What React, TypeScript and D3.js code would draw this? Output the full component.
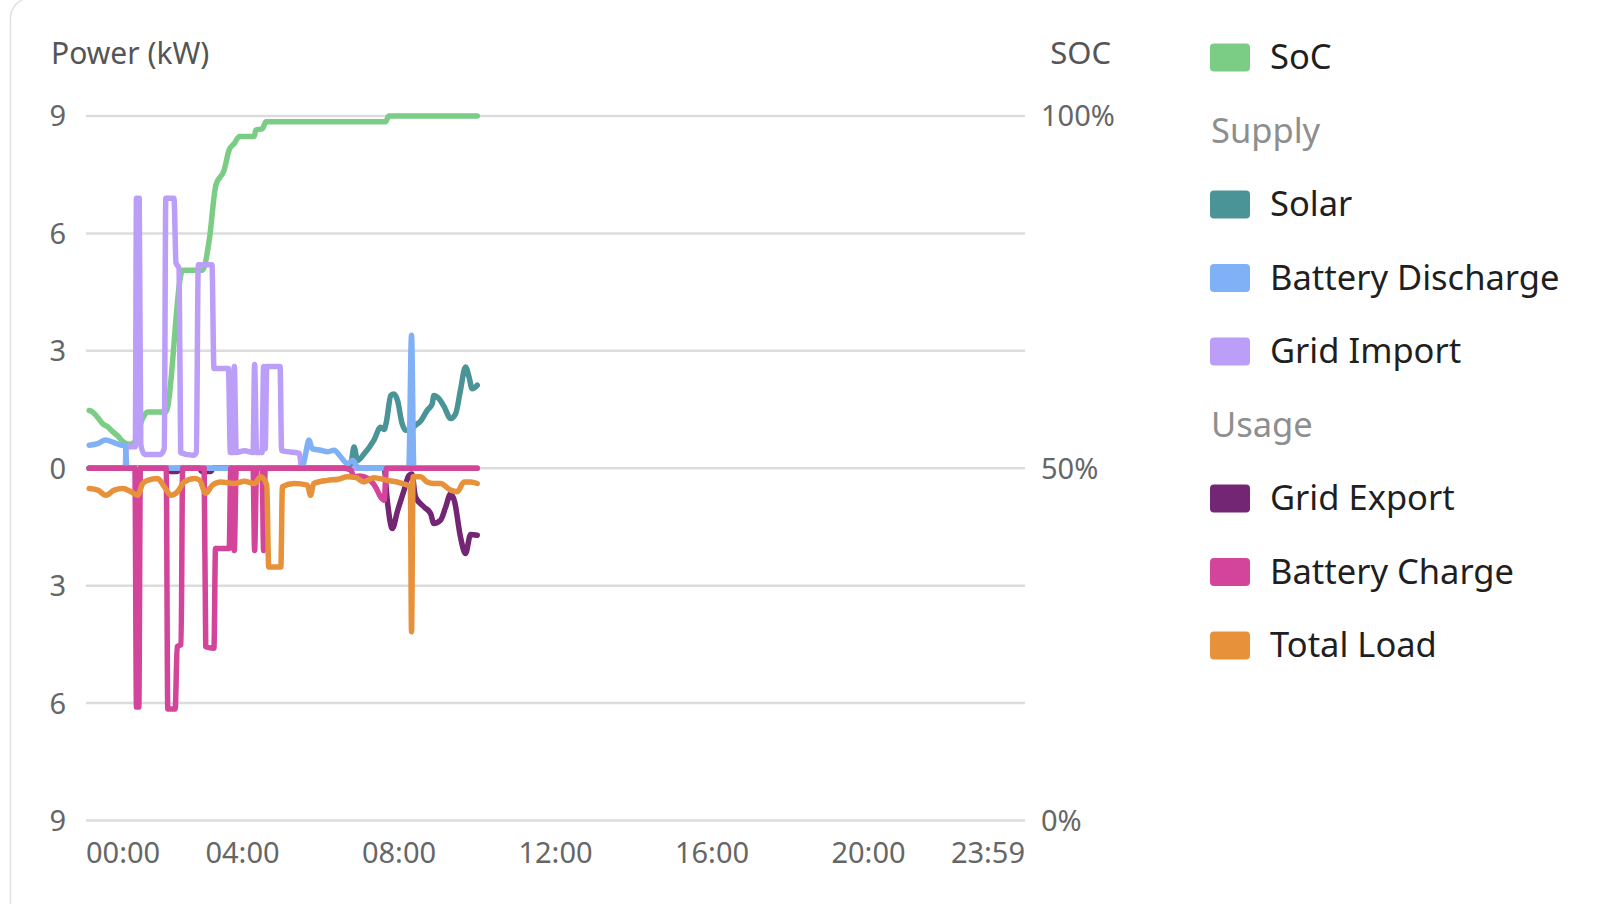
import React from "react";
import * as d3 from "d3";

type Pt = [number, number];

// hours since midnight, state of charge in %
const socData: Pt[] = [
  [0.08, 58.2], [0.17, 58.0], [0.3, 57.2], [0.43, 56.3], [0.55, 55.9], [0.68, 55.2],
  [0.81, 54.6], [0.94, 53.8], [1.1, 53.4], [1.22, 53.6], [1.45, 57.1], [1.57, 58.0],
  [2.04, 58.0], [2.47, 78.1], [2.98, 78.1], [3.15, 82.4], [3.32, 90.2], [3.53, 92.3],
  [3.66, 95.2], [3.79, 96.1], [3.92, 97.1], [4.3, 97.1], [4.34, 98.0], [4.51, 98.2],
  [4.6, 99.2], [7.66, 99.2], [7.74, 100], [10.0, 100],
];

// hours, kW (supply positive)
const solarData: Pt[] = [
  [0.08, 0], [6.6, 0], [6.77, 0.12], [6.85, 0.54], [6.94, 0.2], [7.11, 0.37], [7.36, 0.72],
  [7.53, 1.05], [7.62, 0.99], [7.68, 1.2], [7.79, 1.86], [7.87, 1.9], [7.96, 1.74],
  [8.08, 1.14], [8.17, 0.97], [8.3, 0.97], [8.42, 1.1], [8.55, 1.2], [8.72, 1.48],
  [8.85, 1.65], [8.89, 1.86], [9.02, 1.78], [9.15, 1.58], [9.32, 1.27], [9.45, 1.4],
  [9.57, 1.99], [9.7, 2.59], [9.79, 2.33], [9.87, 2.03], [10.0, 2.12],
];

const dischargeData: Pt[] = [
  [0.08, 0.59], [0.3, 0.63], [0.5, 0.72], [0.7, 0.66], [0.9, 0.59], [1.0, 0.59], [1.05, 0],
  [5.52, 0], [5.6, 0.3], [5.7, 0.72], [5.78, 0.5], [6.0, 0.46], [6.17, 0.42], [6.34, 0.46],
  [6.51, 0.29], [6.68, 0.12], [6.82, 0.2], [6.92, 0.05], [7.0, 0], [8.25, 0], [8.32, 3.4],
  [8.38, 0], [10.0, 0],
];

const importData: Pt[] = [
  [0.08, 0], [1.0, 0], [1.03, 0.55], [1.26, 0.55], [1.29, 6.9], [1.36, 6.9], [1.4, 0.6],
  [1.5, 0.35], [1.9, 0.35], [2.0, 0.5], [2.04, 6.9], [2.25, 6.9], [2.3, 5.25], [2.38, 5.1],
  [2.42, 0.4], [2.75, 0.33], [2.82, 0.4], [2.87, 5.2], [3.22, 5.2], [3.27, 2.55],
  [3.64, 2.55], [3.69, 0.4], [3.76, 0.4], [3.79, 2.6], [3.84, 0.4], [4.05, 0.45],
  [4.27, 0.4], [4.31, 2.65], [4.36, 0.4], [4.5, 0.4], [4.54, 2.6], [4.58, 0.5],
  [4.62, 2.6], [4.96, 2.6], [5.0, 0.45], [5.45, 0.38], [5.52, 0], [10.0, 0],
];

// usage negative
const exportData: Pt[] = [
  [0.08, 0], [2.1, 0], [2.15, -0.08], [2.35, -0.08], [2.4, 0], [2.9, 0], [2.95, -0.08],
  [3.2, -0.08], [3.25, 0], [7.62, 0], [7.7, -0.82], [7.83, -1.54], [7.96, -1.1],
  [8.13, -0.56], [8.25, -0.19], [8.33, -0.15], [8.42, -0.73], [8.64, -0.99], [8.81, -1.16],
  [8.89, -1.41], [9.06, -1.33], [9.19, -1.0], [9.32, -0.65], [9.42, -0.85], [9.57, -1.75],
  [9.7, -2.18], [9.83, -1.69], [10.0, -1.71],
];

const chargeData: Pt[] = [
  [0.08, 0], [1.25, 0], [1.29, -6.1], [1.35, -6.1], [1.39, 0], [2.05, 0], [2.09, -6.15],
  [2.28, -6.15], [2.33, -4.56], [2.43, -4.5], [2.47, 0], [3.02, 0], [3.06, -4.56],
  [3.27, -4.6], [3.31, -2.05], [3.66, -2.05], [3.7, 0], [3.76, 0], [3.79, -2.1], [3.84, 0],
  [4.27, 0], [4.31, -2.1], [4.36, 0], [4.5, 0], [4.54, -2.1], [4.58, 0], [6.6, 0],
  [6.77, -0.05], [6.85, -0.22], [7.0, -0.2], [7.2, -0.26], [7.4, -0.48], [7.53, -0.73],
  [7.62, -0.82], [7.68, 0], [10.0, 0],
];

const loadData: Pt[] = [
  [0.08, -0.52], [0.3, -0.56], [0.51, -0.69], [0.72, -0.56], [0.94, -0.52], [1.15, -0.6],
  [1.32, -0.69], [1.45, -0.39], [1.57, -0.31], [1.83, -0.26], [2.0, -0.47], [2.17, -0.69],
  [2.34, -0.6], [2.51, -0.35], [2.77, -0.26], [2.9, -0.3], [3.06, -0.64], [3.23, -0.43],
  [3.44, -0.35], [3.79, -0.39], [4.05, -0.33], [4.3, -0.39], [4.47, -0.22], [4.62, -0.43],
  [4.67, -2.52], [4.98, -2.52], [5.02, -0.47], [5.32, -0.39], [5.66, -0.43], [5.74, -0.69],
  [5.82, -0.39], [6.17, -0.31], [6.45, -0.28], [6.68, -0.22], [6.9, -0.24], [7.1, -0.35],
  [7.35, -0.24], [7.7, -0.31], [7.95, -0.35], [8.21, -0.43], [8.29, -0.47], [8.32, -4.18],
  [8.36, -0.22], [8.55, -0.22], [8.72, -0.35], [8.89, -0.39], [9.06, -0.39], [9.32, -0.56],
  [9.49, -0.6], [9.66, -0.35], [9.83, -0.35], [10.0, -0.39],
];

const powerTicks = [9, 6, 3, 0, -3, -6, -9];
const socTicks = [100, 50, 0];
const timeTicks = [0, 4, 8, 12, 16, 20, 24];
const timeLabels = ["00:00", "04:00", "08:00", "12:00", "16:00", "20:00", "23:59"];

const legendRows = [
  { label: "SoC", color: "#7bcd86" },
  { label: "Supply", color: null },
  { label: "Solar", color: "#4a9497" },
  { label: "Battery Discharge", color: "#80b0f6" },
  { label: "Grid Import", color: "#bb9ef7" },
  { label: "Usage", color: null },
  { label: "Grid Export", color: "#732673" },
  { label: "Battery Charge", color: "#d3459a" },
  { label: "Total Load", color: "#e8913b" },
];

const font = "'Noto Sans', Lato, sans-serif";

export default function App() {
  const left = 86;
  const right = 1025;
  const top = 116;
  const bottom = 820.5;

  const x = d3.scaleLinear().domain([0, 24]).range([left, right]);
  const yPow = d3.scaleLinear().domain([-9, 9]).range([bottom, top]);
  const ySoc = d3.scaleLinear().domain([0, 100]).range([bottom, top]);

  const powLine = d3.line<Pt>().x((d) => x(d[0])).y((d) => yPow(d[1])).curve(d3.curveMonotoneX);
  const socLine = d3.line<Pt>().x((d) => x(d[0])).y((d) => ySoc(d[1])).curve(d3.curveMonotoneX);

  // drawing order, back to front
  const series: { data: Pt[]; color: string }[] = [
    { data: exportData, color: "#732673" },
    { data: importData, color: "#bb9ef7" },
    { data: solarData, color: "#4a9497" },
    { data: dischargeData, color: "#80b0f6" },
    { data: chargeData, color: "#d3459a" },
    { data: loadData, color: "#e8913b" },
  ];

  return (
    <svg
      width={1606}
      height={904}
      style={{ position: "absolute", left: 0, top: 0, background: "#fff" }}
      fontFamily={font}
    >
      <rect x={10.5} y={-2} width={1700} height={1000} rx={20} fill="#fff" stroke="#e2e2e2" strokeWidth={1.5} />

      {/* grid */}
      {powerTicks.map((t) => (
        <line key={t} x1={left} x2={right} y1={yPow(t)} y2={yPow(t)} stroke="#dcdcdc" strokeWidth={2.5} />
      ))}

      {/* left axis */}
      <text x={51} y={64} fontSize={30} fill="#555">Power (kW)</text>
      {powerTicks.map((t) => (
        <text key={t} x={66} y={yPow(t)} dy="0.36em" textAnchor="end" fontSize={29} fill="#666">
          {Math.abs(t)}
        </text>
      ))}

      {/* right axis */}
      <text x={1111} y={64} textAnchor="end" fontSize={31} fill="#555">SOC</text>
      {socTicks.map((t) => (
        <text key={t} x={1041} y={ySoc(t)} dy="0.36em" fontSize={29} fill="#666">
          {t}%
        </text>
      ))}

      {/* time axis */}
      {timeTicks.map((t, i) => (
        <text
          key={t}
          x={x(t)}
          y={863}
          fontSize={29}
          fill="#666"
          textAnchor={i === 0 ? "start" : i === timeTicks.length - 1 ? "end" : "middle"}
        >
          {timeLabels[i]}
        </text>
      ))}

      {/* lines */}
      <path d={socLine(socData) ?? ""} fill="none" stroke="#7bcd86" strokeWidth={5.5} strokeLinejoin="round" strokeLinecap="round" />
      {series.map((s, i) => (
        <path key={i} d={powLine(s.data) ?? ""} fill="none" stroke={s.color} strokeWidth={5.5} strokeLinejoin="round" strokeLinecap="round" />
      ))}

      {/* legend */}
      {legendRows.map((r, i) => {
        const cy = 57.5 + i * 73.5;
        return r.color ? (
          <g key={r.label}>
            <rect x={1210} y={cy - 14} width={40} height={28} rx={4} fill={r.color} />
            <text x={1270} y={cy + 11.5} fontSize={34.5} fill="#1f1f1f">{r.label}</text>
          </g>
        ) : (
          <text key={r.label} x={1211} y={cy + 11.5} fontSize={34.5} fill="#8e8e8e">{r.label}</text>
        );
      })}
    </svg>
  );
}
